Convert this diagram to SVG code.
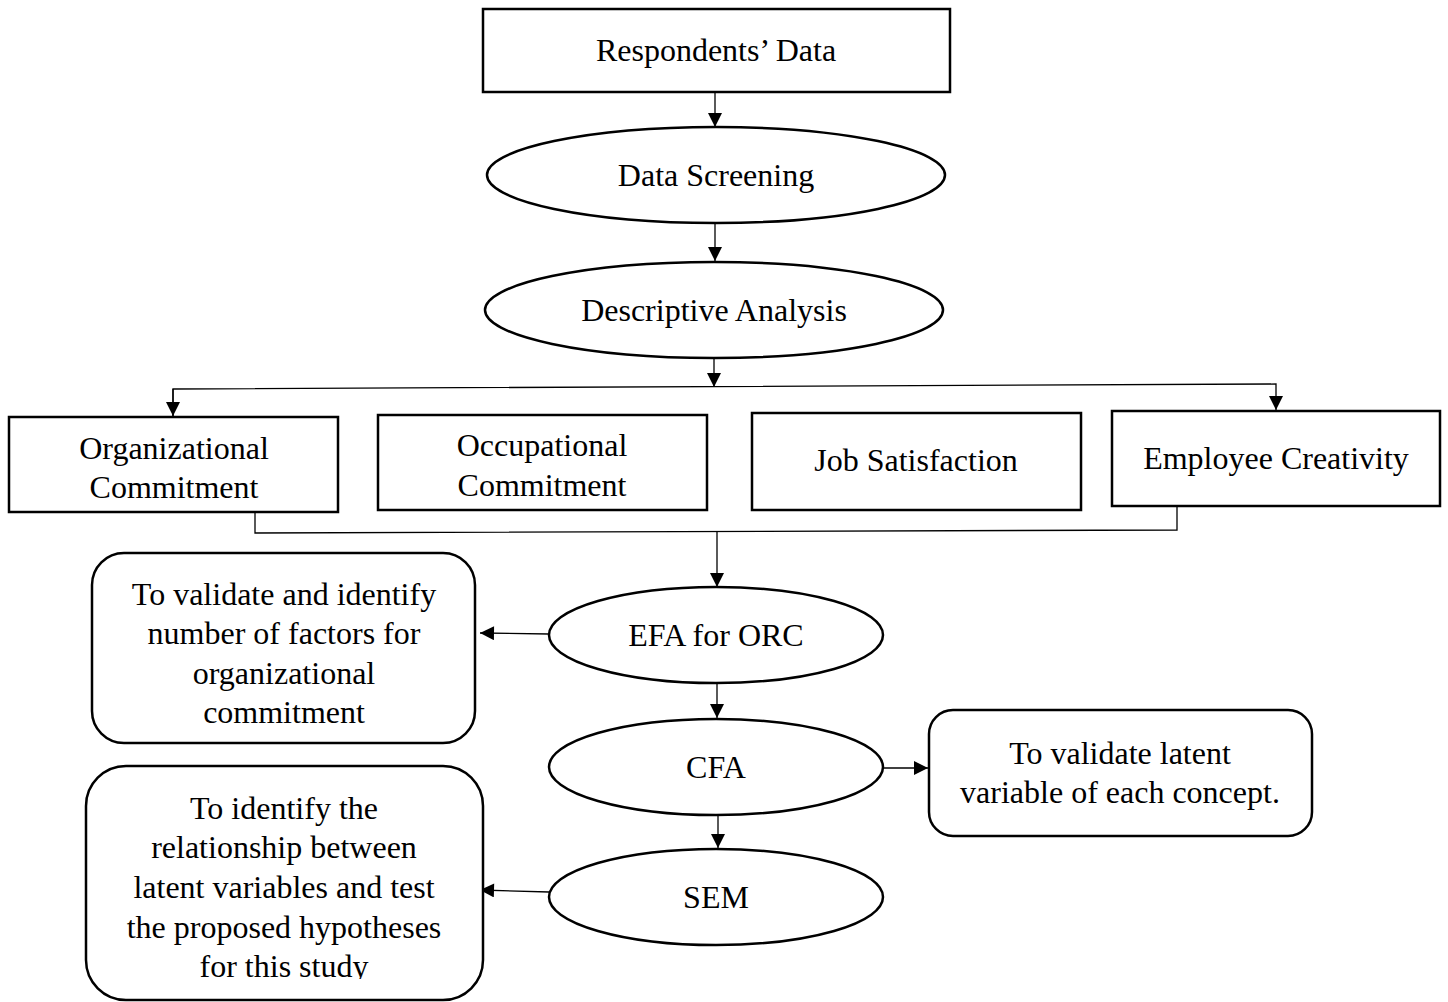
<svg xmlns="http://www.w3.org/2000/svg" width="1448" height="1002" viewBox="0 0 1448 1002">
  <style>
    .box { fill: #fff; stroke: #000; stroke-width: 2.5; }
    .conn { fill: none; stroke: #000; stroke-width: 1.3; }
    text { font-family: "Liberation Serif", "Times New Roman", serif; font-size: 32px; fill: #000; text-anchor: middle; }
  </style>
  <defs>
    <marker id="arrow" viewBox="0 0 10 10" refX="10" refY="5" markerWidth="15" markerHeight="14" markerUnits="userSpaceOnUse" orient="auto">
      <path d="M0,0 L10,5 L0,10 z" fill="#000"/>
    </marker>
    <clipPath id="clipHyp">
      <rect x="86" y="766" width="397" height="213"/>
    </clipPath>
  </defs>

  <g id="connectors">
    <line class="conn" x1="715" y1="92" x2="715" y2="127" marker-end="url(#arrow)"/>
    <line class="conn" x1="715" y1="223" x2="715" y2="261" marker-end="url(#arrow)"/>
    <line class="conn" x1="714" y1="358" x2="714" y2="387" marker-end="url(#arrow)"/>
    <polyline class="conn" points="173,416 173,389 1276,384 1276,410" marker-end="url(#arrow)"/>
    <line class="conn" x1="173" y1="389" x2="173" y2="416" marker-end="url(#arrow)"/>
    <polyline class="conn" points="255,512 255,533 1177,530 1177,506"/>
    <line class="conn" x1="717" y1="532" x2="717" y2="587" marker-end="url(#arrow)"/>
    <line class="conn" x1="549" y1="634" x2="480" y2="633" marker-end="url(#arrow)"/>
    <line class="conn" x1="717" y1="683" x2="717" y2="718" marker-end="url(#arrow)"/>
    <line class="conn" x1="883" y1="768" x2="928" y2="768" marker-end="url(#arrow)"/>
    <line class="conn" x1="718" y1="815" x2="718" y2="848" marker-end="url(#arrow)"/>
    <line class="conn" x1="549" y1="892" x2="480" y2="890" marker-end="url(#arrow)"/>
  </g>

  <g id="respondents-data">
    <rect class="box" x="483" y="9" width="467" height="83"/>
    <text x="716" y="61">Respondents’ Data</text>
  </g>

  <g id="data-screening">
    <ellipse class="box" cx="716" cy="175" rx="229" ry="48"/>
    <text x="716" y="186">Data Screening</text>
  </g>

  <g id="descriptive-analysis">
    <ellipse class="box" cx="714" cy="310" rx="229" ry="48"/>
    <text x="714" y="321">Descriptive Analysis</text>
  </g>

  <g id="organizational-commitment">
    <rect class="box" x="9" y="417" width="329" height="95"/>
    <text x="174" y="459">Organizational</text>
    <text x="174" y="498">Commitment</text>
  </g>

  <g id="occupational-commitment">
    <rect class="box" x="378" y="415" width="329" height="95"/>
    <text x="542" y="456">Occupational</text>
    <text x="542" y="496">Commitment</text>
  </g>

  <g id="job-satisfaction">
    <rect class="box" x="752" y="413" width="329" height="97"/>
    <text x="916" y="471">Job Satisfaction</text>
  </g>

  <g id="employee-creativity">
    <rect class="box" x="1112" y="411" width="328" height="95"/>
    <text x="1276" y="469">Employee Creativity</text>
  </g>

  <g id="efa">
    <ellipse class="box" cx="716" cy="635" rx="167" ry="48"/>
    <text x="716" y="646">EFA for ORC</text>
  </g>

  <g id="efa-purpose">
    <rect class="box" x="92" y="553" width="383" height="190" rx="32" ry="32"/>
    <text x="284" y="605">To validate and identify</text>
    <text x="284" y="644">number of factors for</text>
    <text x="284" y="684">organizational</text>
    <text x="284" y="723">commitment</text>
  </g>

  <g id="cfa">
    <ellipse class="box" cx="716" cy="767" rx="167" ry="48"/>
    <text x="716" y="778">CFA</text>
  </g>

  <g id="cfa-purpose">
    <rect class="box" x="929" y="710" width="383" height="126" rx="24" ry="24"/>
    <text x="1120" y="764">To validate latent</text>
    <text x="1120" y="803">variable of each concept.</text>
  </g>

  <g id="sem">
    <ellipse class="box" cx="716" cy="897" rx="167" ry="48"/>
    <text x="716" y="908">SEM</text>
  </g>

  <g id="sem-purpose">
    <rect class="box" x="86" y="766" width="397" height="234" rx="40" ry="40"/>
    <g clip-path="url(#clipHyp)">
      <text x="284" y="819">To identify the</text>
      <text x="284" y="858">relationship between</text>
      <text x="284" y="898">latent variables and test</text>
      <text x="284" y="938">the proposed hypotheses</text>
      <text x="284" y="977">for this study</text>
    </g>
  </g>
</svg>
